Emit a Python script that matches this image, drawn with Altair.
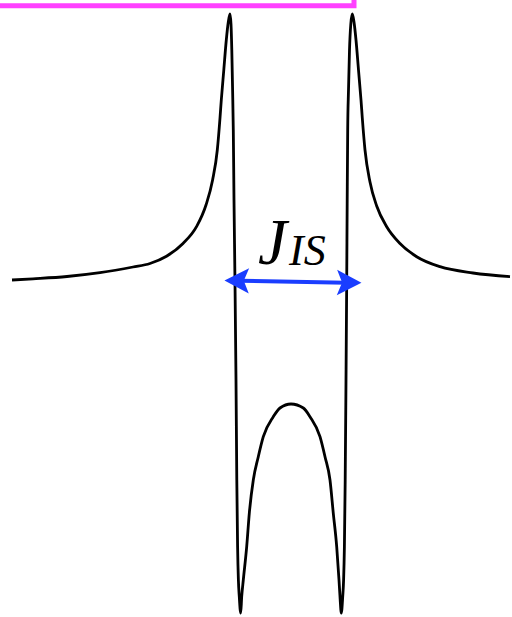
import altair as alt
import pandas as pd

# Antiphase doublet: frequency axis (arbitrary units) and signal intensity
freq = [12, 33, 67, 100, 133, 150, 166.5, 183, 196.5, 206, 212.6, 217.3, 220,
        221.3, 223.8, 226.3, 228.3, 230, 231, 231.8, 232.6, 233.3, 234, 235,
        236, 236.8, 237.6, 238.4, 239.3, 240.7, 241.7, 243.3, 246.7, 249.3,
        253.3, 258.3, 263.3, 273.3, 280, 291, 303.3, 310, 320, 325, 330,
        333.3, 336.7, 339, 340, 341.3, 342.7, 343.6, 344.4, 345.2, 346, 346.7,
        347.2, 347.7, 348.5, 349.5, 350.8, 352.3, 354, 356, 358.5, 361, 362.3,
        365, 370, 376.7, 386.7, 400, 416.7, 440, 473, 510]
signal = [0, 1.2, 3.5, 7.3, 13, 16.5, 23.7, 36.5, 53.3, 75, 100, 130, 162,
          180, 210, 240, 258, 266, 256, 230, 190, 150, 80, -3,
          -100, -200, -266.7, -300, -317, -333, -316.7, -300, -266.7, -233.3,
          -200, -176.7, -156.7, -136.7, -128, -124, -128, -136.7, -156.7, -176.7, -200,
          -233.3, -266.7, -300, -316.7, -333, -317, -300, -266.7, -200, -100, -3,
          80, 150, 190, 230, 256, 266, 258, 240, 210, 180, 162,
          130, 98, 74, 53.3, 36.5, 23.3, 13.3, 7, 3.3]

# Coupling-constant arrow between the two lines
arrow_x = [240, 346]
arrow_y = [-0.7, -2.7]
head_x = [236.7, 349.2]
head_y = [-0.7, -2.7]
head_angle = [180.8, 0.8]

# Corner of the highlight frame
box_x, box_x2 = -20, 354
box_y, box_y2 = 320, 274.2

X = alt.Scale(domain=[0, 512], nice=False, zero=False)
Y = alt.Scale(domain=[-337, 280], nice=False, zero=False)


def xy(xf, yf):
    return dict(x=alt.X(xf, scale=X, axis=None), y=alt.Y(yf, scale=Y, axis=None))


spec = pd.DataFrame({"f": freq, "s": signal})
curve = alt.Chart(spec).mark_line(
    color="black", strokeWidth=2.8, interpolate="monotone", clip=True
).encode(**xy("f:Q", "s:Q"))

box = alt.Chart(pd.DataFrame({"x": [box_x], "x2": [box_x2], "y": [box_y], "y2": [box_y2]})).mark_rect(
    fill="white", fillOpacity=0, stroke="#ff40ff", strokeWidth=5, clip=True
).encode(**xy("x:Q", "y:Q"), x2="x2:Q", y2="y2:Q")

shaft = alt.Chart(pd.DataFrame({"x": [arrow_x[0]], "x2": [arrow_x[1]],
                                "y": [arrow_y[0]], "y2": [arrow_y[1]]})).mark_rule(
    color="#1a3dff", strokeWidth=4
).encode(**xy("x:Q", "y:Q"), x2="x2:Q", y2="y2:Q")

heads = alt.Chart(pd.DataFrame({"x": head_x, "y": head_y, "a": head_angle})).mark_point(
    shape="M1,0 L-1,-1.04 L-0.58,0 L-1,1.04 Z", filled=True, fill="#1a3dff",
    strokeWidth=0, opacity=1, size=600
).encode(**xy("x:Q", "y:Q"), angle=alt.Angle("a:Q", scale=None))

label_j = alt.Chart(pd.DataFrame({"x": [258], "y": [16], "t": ["J"]})).mark_text(
    font="Liberation Serif", fontStyle="italic", fontSize=65, align="left",
    baseline="alphabetic", color="black"
).encode(**xy("x:Q", "y:Q"), text="t:N")

label_is = alt.Chart(pd.DataFrame({"x": [289], "y": [15], "t": ["IS"]})).mark_text(
    font="Liberation Serif", fontStyle="italic", fontSize=44, align="left",
    baseline="alphabetic", color="black"
).encode(**xy("x:Q", "y:Q"), text="t:N")

chart = alt.layer(box, curve, shaft, heads, label_j, label_is).properties(
    width=512, height=617, padding=0, autosize="none", background="white"
).configure_view(stroke=None)

chart.save("out.html", embed_options={"renderer": "svg", "actions": False})
